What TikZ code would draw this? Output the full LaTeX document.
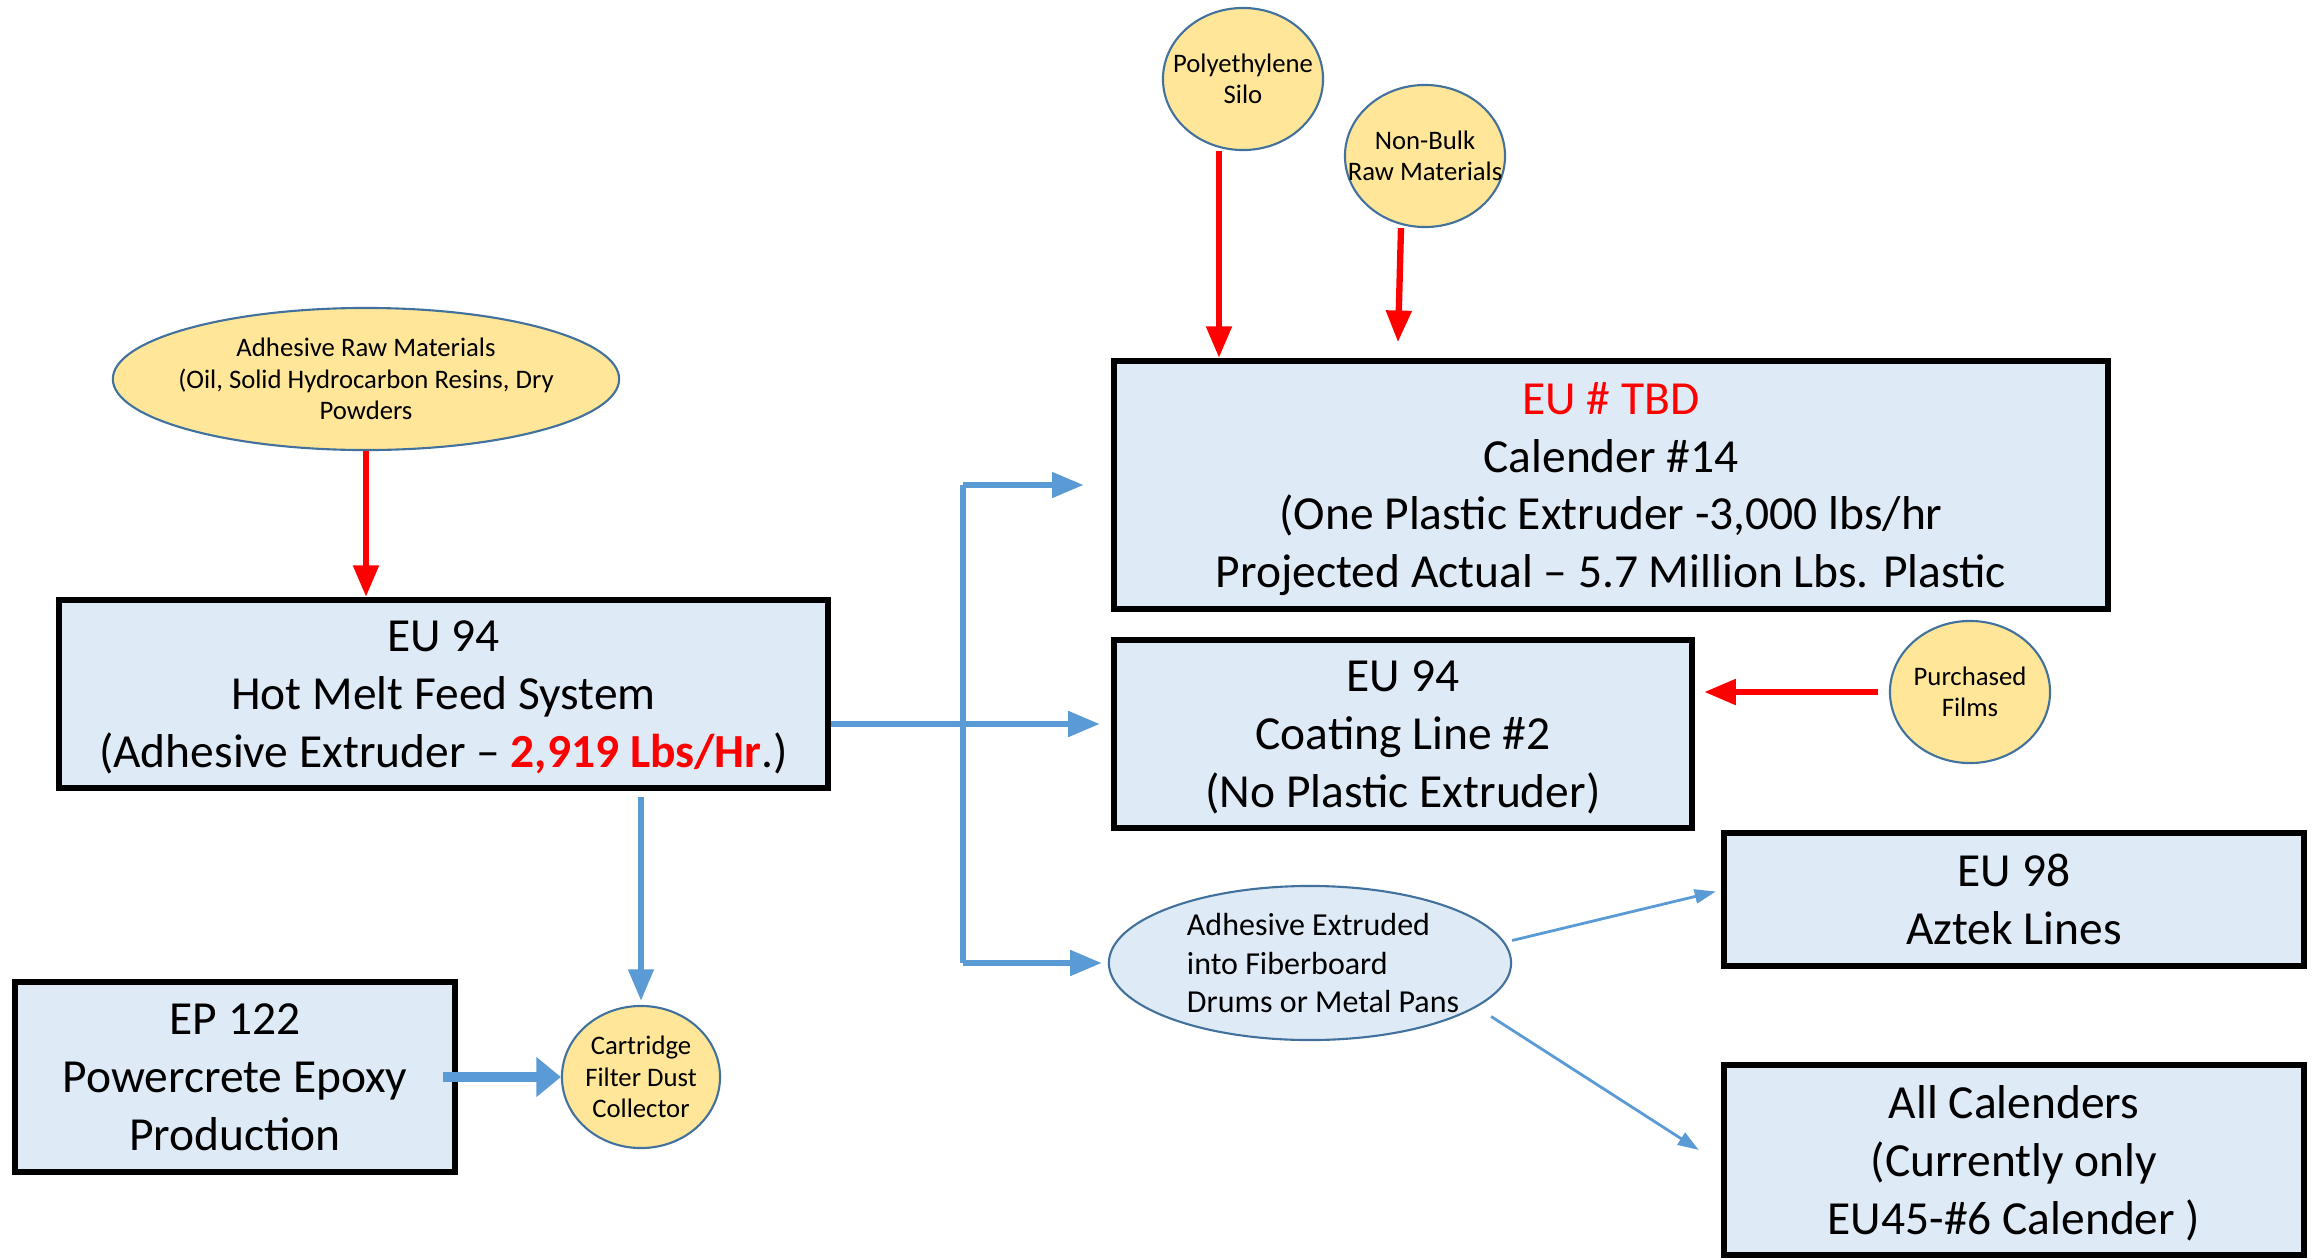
\documentclass[tikz,border=0pt]{standalone}
\usepackage{fontspec}
\setmainfont{Carlito}
\usetikzlibrary{arrows.meta,shapes.geometric}

\definecolor{boxfill}{HTML}{DEEAF6}
\definecolor{srcfill}{HTML}{FFE699}
\definecolor{srcline}{HTML}{41719C}
\definecolor{flowblue}{HTML}{5B9BD5}

\begin{document}
\begin{tikzpicture}[x=0.01cm,y=-0.01cm,
    unit/.style={draw=black,line width=0.06cm,fill=boxfill,align=center,inner sep=0pt,
      text depth=0pt,font=\fontsize{13.5}{16.4}\selectfont},
    source/.style={ellipse,draw=srcline,line width=0.6pt,fill=srcfill,align=center,inner sep=0pt,
      inner xsep=-0.3cm,minimum width=1.6cm,minimum height=1.42cm,font=\fontsize{7.6}{8.9}\selectfont},
    feed/.style={red,line width=1.8pt,-{Triangle[length=9pt,width=7pt]}},
    flowline/.style={flowblue,line width=1.7pt},
    flow/.style={flowline,-{Triangle[length=9pt,width=7pt]}},
    fatflow/.style={flowblue,line width=2.6pt,-{Triangle[length=7pt,width=11pt]}},
    thinflow/.style={flowblue,line width=0.8pt,-{Triangle[length=6pt,width=4pt]}}]
  \useasboundingbox (0,0) rectangle (2323,1260);

  % Units
  \node[unit,minimum width=7.69cm,minimum height=1.88cm] (hotmelt) at (443.5,694)
    {EU 94\\Hot Melt Feed System\\(Adhesive Extruder -- \textcolor{red}{\textbf{2,919 Lbs/Hr}}.)};
  \node[unit,minimum width=9.94cm,minimum height=2.48cm] (cal) at (1611,485)
    {\textcolor{red}{EU \# TBD}\\Calender \#14\\(One Plastic Extruder -3,000 lbs/hr\\Projected Actual -- 5.7 Million Lbs. Plastic};
  \node[unit,minimum width=5.78cm,minimum height=1.88cm] (coat) at (1403,734)
    {EU 94\\Coating Line \#2\\(No Plastic Extruder)};
  \node[unit,minimum width=5.80cm,minimum height=1.33cm] (eu98) at (2014,899.5)
    {EU 98\\Aztek Lines};
  \node[unit,minimum width=5.80cm,minimum height=1.90cm] (all) at (2014,1160)
    {All Calenders\\(Currently only\\EU45-\#6 Calender )};
  \node[unit,minimum width=4.40cm,minimum height=1.90cm] (ep) at (235,1077)
    {EP 122\\Powercrete Epoxy\\Production};

  % Sources
  \node[source,minimum width=5.06cm] (raw) at (366,379)
    {Adhesive Raw Materials\\(Oil, Solid Hydrocarbon Resins, Dry\\Powders};
  \node[source] (poly) at (1243,79) {Polyethylene\\Silo};
  \node[source] (nb) at (1425,156) {Non-Bulk\\Raw Materials};
  \node[source] (films) at (1970,692) {Purchased\\Films};
  \node[source,minimum width=1.58cm] (cart) at (641,1077) {Cartridge\\Filter Dust\\Collector};
  \node[source,fill=boxfill,minimum width=4.02cm,minimum height=1.54cm,align=left,
    font=\fontsize{9.1}{10.95}\selectfont] (drum) at (1310,963)
    {\hspace*{0.26cm}Adhesive Extruded\\\hspace*{0.26cm}into Fiberboard\\\hspace*{0.26cm}Drums or Metal Pans};

  % Feeds
  \draw[feed] (raw.south) -- (raw.south |- hotmelt.north);
  \draw[feed] ([xshift=-0.24cm]poly.south) -- ([xshift=-0.24cm]poly.south |- cal.north);
  \draw[feed] ([xshift=-0.24cm]nb.south) -- ([shift={(-0.27cm,-1.14cm)}]nb.south);
  \draw[feed] ([xshift=-0.11cm]films.west) -- ([xshift=0.09cm]coat.east |- films.west);

  % Adhesive flow
  \coordinate (split) at (963,724);
  \draw[flow,shorten >=0.11cm] (hotmelt.east |- split) -- (coat.west |- split);
  \draw[flowline] (split |- cal.west) -- (split |- drum.west);
  \draw[flow,shorten >=0.27cm] (split |- cal.west) -- (cal.west);
  \draw[flow,shorten >=0.06cm] (split |- drum.west) -- (drum.west);
  \draw[flow,shorten <=0.06cm,shorten >=0.04cm] (hotmelt.south -| cart.north) -- (cart.north);
  \draw[fatflow] ([xshift=-0.15cm]ep.east) -- (cart.west);
  \draw[thinflow] ([shift={(0.07cm,0.02cm)}]drum.6) -- ([shift={(-0.05cm,0.08cm)}]eu98.west);
  \draw[thinflow] ([shift={(0.15cm,-0.09cm)}]drum.-15) -- ([shift={(-0.22cm,0.1cm)}]all.west);
\end{tikzpicture}
\end{document}
